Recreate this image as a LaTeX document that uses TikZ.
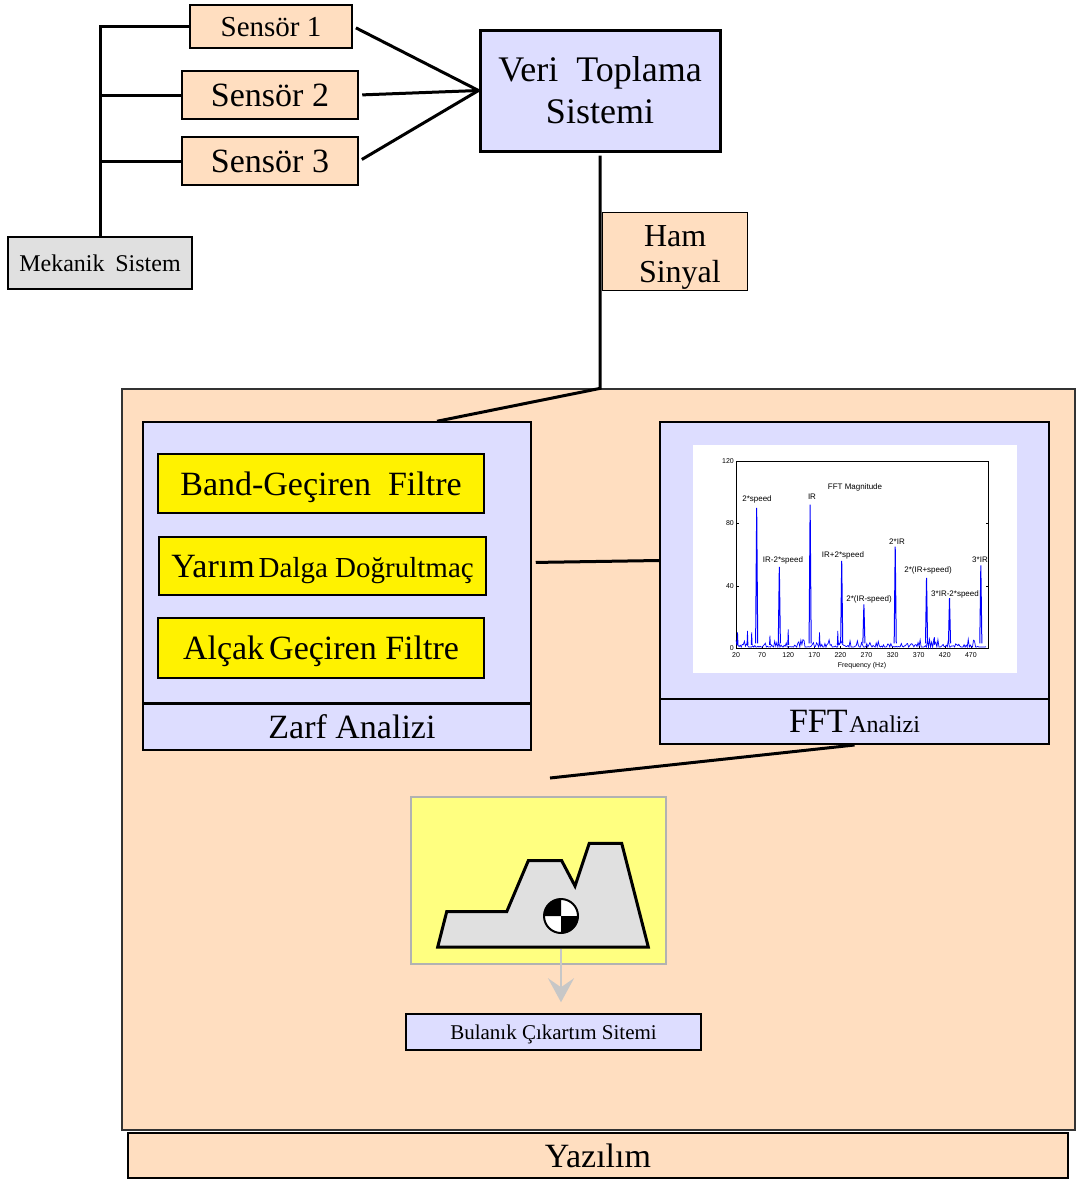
\documentclass[tikz,border=0pt]{standalone}
\usepackage{fontspec}
\setmainfont{Liberation Serif}
\newfontfamily\plotfont{Liberation Sans}
\usetikzlibrary{positioning, arrows.meta}
\definecolor{softpeach}{RGB}{255,222,192}
\definecolor{paleblue}{RGB}{221,221,255}
\definecolor{iconyellow}{RGB}{255,255,128}
\definecolor{plotblue}{RGB}{0,0,255}
\definecolor{mechgray}{RGB}{224,224,224}
\newcommand{\pxfont}[1]{\fontsize{#1}{1.18\dimexpr#1pt\relax}\selectfont}

\tikzset{
  box/.style={draw, inner sep=0pt, align=center},
  oneline/.style={text depth=0pt},
  sensorbox/.style={box, oneline, fill=softpeach, line width=2.5pt, font=\pxfont{31}},
  filterbox/.style={box, oneline, fill=yellow, line width=1.2pt, minimum width=326pt, minimum height=59pt, font=\pxfont{34}},
  panel/.style={box, fill=paleblue, line width=1.5pt},
  link/.style={line width=3pt},
  peaklabel/.style={font=\plotfont\fontsize{8}{9}\selectfont, inner sep=0pt},
  ticklabel/.style={font=\plotfont\fontsize{7}{8}\selectfont, inner sep=0pt}
}

\begin{document}
\begin{tikzpicture}[x=1pt, y=-1pt]
  \useasboundingbox (0,0) rectangle (1076,1181);

  % olcum tarafi
  \node[sensorbox, minimum width=162pt, minimum height=43pt, font=\pxfont{29}] (s1) at (271,26.5) {Sensör 1};
  \node[sensorbox, minimum width=176pt, minimum height=48pt, font=\pxfont{34}] (s2) at (270,95) {Sensör 2};
  \node[sensorbox, minimum width=176pt, minimum height=48pt, font=\pxfont{34}] (s3) at (270,161) {Sensör 3};
  \node[box, oneline, fill=mechgray, line width=2.5pt, minimum width=184pt, minimum height=52pt, font=\pxfont{24}] (mek) at (100,263) {Mekanik\hspace{0.45em}Sistem};
  \node[panel, line width=3pt, minimum width=240pt, minimum height=121pt, font=\fontsize{36}{42}\selectfont] (veri) at (600,90.5) {Veri\hspace{0.5em}Toplama\\Sistemi};
  \node[box, fill=softpeach, line width=1.2pt, anchor=north west, minimum width=145pt, minimum height=78pt] (ham) at (602,212) {};
  \node[align=center, inner sep=0pt, font=\fontsize{32}{36}\selectfont] at ([yshift=-6pt]ham.center) {Ham\\ \hspace{0.3em}Sinyal};

  % yazilim blogu
  \node[box, fill=softpeach, line width=1.2pt, draw=black!80, minimum width=953pt, minimum height=741pt] (soft) at (598.5,759.5) {};
  \node[box, oneline, fill=softpeach, line width=2pt, minimum width=940pt, minimum height=45pt, font=\pxfont{34}] (yaz) at (598,1155.5) {Yazılım};

  % zarf analizi
  \node[panel, minimum width=388pt, minimum height=281pt] (zarf) at (337,562.5) {};
  \node[panel, oneline, minimum width=388pt, minimum height=47pt, font=\pxfont{34}] (zarflbl) at (337,726.5) {\hspace{30pt}Zarf Analizi};
  \draw[line width=3pt] (zarf.south west) -- (zarf.south east);
  \node[filterbox] (bpf) at (321,483.5) {Band-Geçiren\hspace{0.5em}Filtre};
  \node[filterbox, minimum width=327pt, minimum height=58pt] (hwr) at (322.5,566) {{\pxfont{34}Yarım}\hspace{4pt}{\pxfont{29}Dalga Doğrultmaç}};
  \node[filterbox, minimum height=60pt] (lpf) at (321,648) {Alçak\hspace{5pt}Geçiren Filtre};

  % fft analizi
  \node[panel, line width=2pt, minimum width=389pt, minimum height=277pt] (fft) at (854.5,560.5) {};
  \node[panel, oneline, line width=2pt, minimum width=389pt, minimum height=45pt] (fftlbl) at (854.5,721.5) {{\pxfont{34}FFT}\,{\pxfont{24}Analizi}};
  \fill[white] (693,445) rectangle (1017,673);
  \draw[line width=0.5pt] (736,461) rectangle (988,648);
  \foreach \v/\yy in {0/648, 40/585.7, 80/523.4, 120/461} {
    \draw[line width=0.4pt] (736,\yy) -- ++(2.5,0);
    \draw[line width=0.4pt] (988,\yy) -- ++(-2.5,0);
    \node[ticklabel, anchor=east] at (734,\yy) {\v};
  }
  \foreach \f in {20,70,...,470} {
    \draw[line width=0.4pt] ({736+(\f-20)*0.522},648) -- ++(0,-2.5);
    \node[ticklabel, anchor=north] at ({736+(\f-20)*0.522},652) {\f};
  }
  \node[ticklabel] at (862,666) {Frequency (Hz)};
  \node[peaklabel] at (855,487) {FFT Magnitude};
  \begin{scope}[shift={(725.56,648)}, x=0.522pt, y=1.558pt]
    \pgfmathsetseed{11}
    \draw[plotblue, line width=0.7pt] plot[domain=20:499, samples=240] (\x, {0.6+5*rnd^3});
    \foreach \f/\h in {42/11, 50/10, 85/8, 120/12, 180/10, 215/11, 400/7, 23/10}
      \draw[plotblue, line width=0.7pt] ({\f-1},2) -- (\f,\h) -- ({\f+1},2);
    \foreach \f/\h in {59.6/90, 103/52, 162/92, 222.5/56, 265/28, 325/65, 385/45, 429/32, 489/53}
      \draw[plotblue, line width=1pt] ({\f-2},3) -- (\f,\h) -- ({\f+2},3);
  \end{scope}
  \node[peaklabel] at (757,499) {2*speed};
  \node[peaklabel] at (812,497) {IR};
  \node[peaklabel] at (783,560) {IR-2*speed};
  \node[peaklabel] at (843,555) {IR+2*speed};
  \node[peaklabel] at (869,599) {2*(IR-speed)};
  \node[peaklabel] at (897,542) {2*IR};
  \node[peaklabel] at (928,570) {2*(IR+speed)};
  \node[peaklabel] at (955,594) {3*IR-2*speed};
  \node[peaklabel] at (980,560) {3*IR};

  % bulanik cikarim
  \node[box, fill=iconyellow, draw=black!30, line width=1.2pt, minimum width=255pt, minimum height=167pt] (icon) at (538.5,880.5) {};
  \draw[fill=mechgray, line width=3pt, line join=miter]
    (437.7,947) -- (446.7,911.7) -- (506.7,911.7) -- (528.3,860.7) -- (561.7,860.7)
    -- (575,886) -- (589.3,843.3) -- (621.7,843.3) -- (648.3,947) -- cycle;
  \coordinate (base) at (561,949);
  \fill[white] (561,916) circle[radius=17];
  \fill (561,916) -- ++(180:17) arc[start angle=180, end angle=270, radius=17] -- cycle;
  \fill (561,916) -- ++(0:17) arc[start angle=0, end angle=90, radius=17] -- cycle;
  \draw[line width=2pt] (561,916) circle[radius=17];
  \node[box, oneline, fill=paleblue, line width=1.5pt, minimum width=295pt, minimum height=36pt, font=\pxfont{21}] (bul) at (553.5,1032) {Bulanık Çıkartım Sitemi};

  % baglantilar
  \draw[link] (mek.north) |- (s1.west);
  \draw[link] (mek.north |- s2.west) -- (s2.west);
  \draw[link] (mek.north |- s3.west) -- (s3.west);
  \draw[link, shorten <=3pt] (s1.east) -- (veri.west);
  \draw[link, shorten <=3pt] (s2.east) -- (veri.west);
  \draw[link, shorten <=3pt] (s3.east) -- (veri.west);
  \coordinate (drop) at (veri.south |- soft.north);
  \draw[link, shorten <=3pt] (veri.south) -- (drop) -- ([xshift=100pt]zarf.north);
  \draw[link, shorten <=4pt] (zarf.east) -- (fft.west);
  \coordinate (fftend) at (550,778);
  \draw[link] (fftlbl.south) -- (fftend);
  \draw[black!22, line width=2pt, -{Stealth[length=24pt, width=26pt, inset=9pt]}, shorten >=11pt] (base) -- (base |- bul.north);
\end{tikzpicture}
\end{document}
